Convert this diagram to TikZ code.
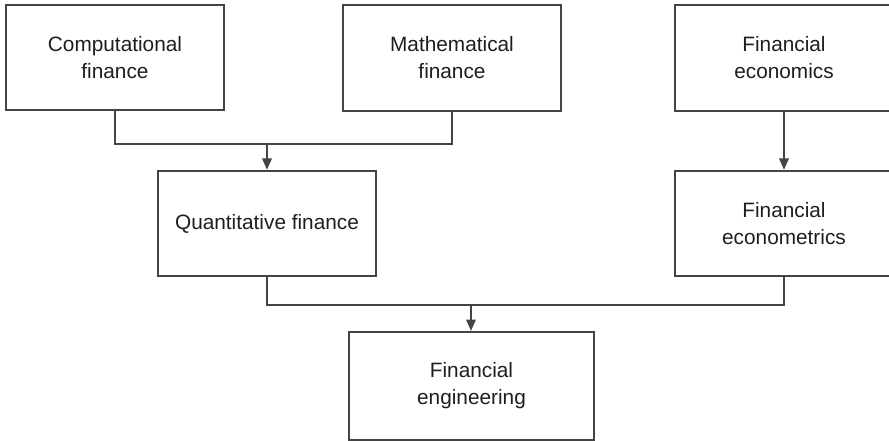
\documentclass[tikz,border=0pt]{standalone}
\usepackage{fontspec}
\setmainfont{Liberation Sans}
\usetikzlibrary{arrows.meta}

\tikzset{every picture/.style={line width=1.5pt}}
\tikzset{
  fbox/.style={draw={rgb,255:red,68;green,68;blue,68}, rectangle, align=center, inner sep=0pt,
    text={rgb,255:red,30;green,30;blue,30}, font=\fontsize{15.6}{20.3}\selectfont,
    minimum width=163.5pt, minimum height=79pt},
  link/.style={draw={rgb,255:red,68;green,68;blue,68}},
  tip/.style={link, -{Triangle[length=8.5pt,width=7pt]}}
}

\begin{document}
\begin{tikzpicture}[x=0.75pt,y=0.75pt,yscale=-1,xscale=1]
\path[use as bounding box] (0,0) rectangle (889,441);

%Shape: Rectangle [id:comp]
\node[fbox] (comp) at (115,57.5) {Computational\\finance};
%Shape: Rectangle [id:math]
\node[fbox] (math) at (452,58) {Mathematical\\finance};
%Shape: Rectangle [id:econ]
\node[fbox] (econ) at (784,58) {Financial\\economics};
%Shape: Rectangle [id:quant]
\node[fbox] (quant) at (267,223.5) {Quantitative finance};
%Shape: Rectangle [id:metr]
\node[fbox] (metr) at (784,223.5) {Financial\\econometrics};
%Shape: Rectangle [id:eng]
\node[fbox, minimum width=184pt, minimum height=81pt] (eng) at (471.5,386) {Financial\\engineering};

%Junctions
\coordinate (top) at (267,144);
\coordinate (low) at (471,305);

%Straight Lines
\draw[link] (comp.south) |- (top) -| (math.south);
\draw[tip] (top) -- (quant.north);
\draw[tip] (econ.south) -- (metr.north);
\draw[link] (quant.south) |- (low) -| (metr.south);
\draw[tip] (low) -- (low |- eng.north);

\end{tikzpicture}
\end{document}
